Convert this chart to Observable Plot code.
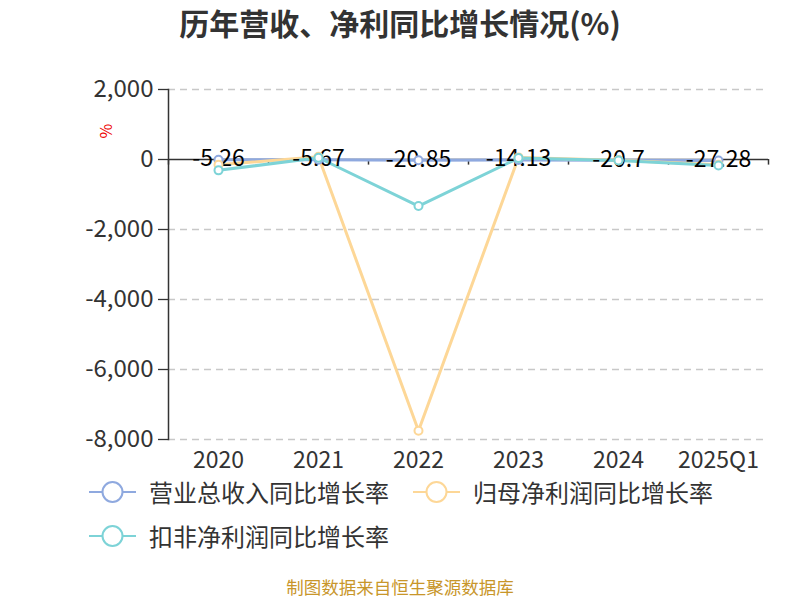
<!DOCTYPE html>
<html>
<head>
<meta charset="utf-8">
<script src="https://cdn.jsdelivr.net/npm/d3@7"></script>
<script src="https://cdn.jsdelivr.net/npm/@observablehq/plot@0.6"></script>
<style>
  body { margin: 0; background: #fff; }
  #wrap { position: relative; width: 800px; height: 600px; overflow: hidden; font-family: "Noto Sans CJK SC", "Noto Sans", sans-serif; color: #333; }
  #title { height: 50px; line-height: 44px; text-align: center; font-size: 30px; font-weight: bold; color: #333; }
  #unit { position: absolute; left: 98px; top: 119px; color: #e00; font-size: 16px; transform: rotate(-90deg); }
  #legend { position: absolute; top: 481px; left: 88px; width: 700px; font-size: 24px; color: #333; }
  .item { position: absolute; display: flex; align-items: center; height: 22px; white-space: nowrap; }
  .item svg { margin-right: 12px; }
  .item span { display: inline-block; height: 22px; line-height: 22px; overflow: visible; }
  #caption { position: absolute; top: 577px; left: 0; width: 800px; height: 20px; line-height: 20px; text-align: center; font-size: 17.5px; color: #c8962a; }
</style>
</head>
<body>
<div id="wrap">
  <div id="title">历年营收、净利同比增长情况(%)</div>
  <div id="chart"></div>
  <div id="unit">%</div>
  <div id="legend"></div>
  <div id="caption">制图数据来自恒生聚源数据库</div>
</div>
<script>
const categories = ["2020", "2021", "2022", "2023", "2024", "2025Q1"];
const seriesNames = ["营业总收入同比增长率", "归母净利润同比增长率", "扣非净利润同比增长率"];
const revenueGrowth = [-5.26, -5.67, -20.85, -14.13, -20.7, -27.28];
const netProfitGrowth = [-150, 80, -7750, 60, -20, -150];
const deductedProfitGrowth = [-310, 50, -1330, 40, -30, -170];
const colors = ["#8fa9df", "#fdd797", "#7dd3d7"];
const yTicks = [2000, 0, -2000, -4000, -6000, -8000];

const seriesValues = [revenueGrowth, netProfitGrowth, deductedProfitGrowth];
const data = [];
seriesValues.forEach((vals, s) => vals.forEach((v, i) => data.push({series: seriesNames[s], cat: categories[i], value: v})));
const revData = data.filter(d => d.series === seriesNames[0]);
const fmt = d => d.toLocaleString("en-US");

const marks = [
  Plot.ruleY(yTicks.filter(t => t !== 0), {stroke: "#c8c8c8", strokeDasharray: "7,5", strokeWidth: 1.3}),
  Plot.axisY({ticks: yTicks, tickFormat: fmt, tickSize: 10, tickPadding: 5, fontSize: 24, stroke: "#333", color: "#333", label: null, strokeWidth: 1.3}),
  Plot.axisX({tickSize: 0, tickPadding: 12, fontSize: 23, label: null, color: "#333"}),
  Plot.ruleY([0], {stroke: "#333", strokeWidth: 1.6}),
  Plot.ruleX(categories, {x: d => d, y1: 0, y2: -160, dx: -50, stroke: "#333", strokeWidth: 1.5}),
  Plot.ruleX([categories[categories.length - 1]], {x: d => d, y1: 0, y2: -160, dx: 50, stroke: "#333", strokeWidth: 1.5}),
];
seriesNames.forEach((name, s) => {
  marks.push(Plot.line(data.filter(d => d.series === name), {x: "cat", y: "value", stroke: colors[s], strokeWidth: 3}));
});
marks.push(Plot.text(revData, {x: "cat", y: "value", text: d => String(d.value), fontSize: 23, fill: "#000", dy: -1, lineAnchor: "middle"}));
seriesNames.forEach((name, s) => {
  marks.push(Plot.dot(data.filter(d => d.series === name), {x: "cat", y: "value", r: 4, fill: "#fff", stroke: colors[s], strokeWidth: 2}));
});
marks.push(Plot.frame({anchor: "left", stroke: "#333", strokeWidth: 1.5}));

const chart = Plot.plot({
  width: 800,
  height: 430,
  marginTop: 39,
  marginBottom: 41,
  marginLeft: 168,
  marginRight: 32,
  style: {fontFamily: "'Noto Sans CJK SC', 'Noto Sans', sans-serif", overflow: "visible"},
  x: {type: "band", domain: categories, padding: 0, axis: null},
  y: {domain: [-8000, 2000], axis: null},
  marks
});
document.getElementById("chart").appendChild(chart);

const legendPos = [[0, 0], [324, 0], [0, 44]];
const legend = document.getElementById("legend");
seriesNames.forEach((name, s) => {
  const item = document.createElement("div");
  item.className = "item";
  item.style.left = legendPos[s][0] + "px";
  item.style.top = legendPos[s][1] + "px";
  item.innerHTML = `<svg width="49" height="22" style="overflow:visible"><line x1="1" x2="48" y1="11" y2="11" stroke="${colors[s]}" stroke-width="2"/><circle cx="24.5" cy="11" r="10" fill="#fff" stroke="${colors[s]}" stroke-width="2"/></svg><span>${name}</span>`;
  legend.appendChild(item);
});
</script>
</body>
</html>
